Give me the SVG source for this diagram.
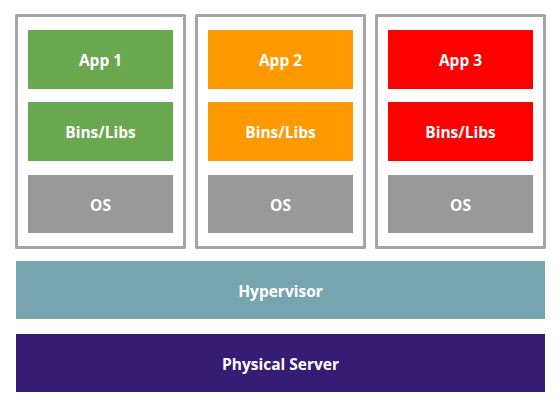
<svg xmlns="http://www.w3.org/2000/svg" width="560" height="406" viewBox="0 0 560 406">
<style>
.vm{fill:#ffffff;stroke:#a5a5a5;stroke-width:3;stroke-linejoin:round}
.lbl{font-family:"Open Sans","Liberation Sans",sans-serif;font-weight:bold;font-size:15.5px;fill:#ffffff;text-anchor:middle;dominant-baseline:central}
.os{fill:#999999}
</style>
<rect width="560" height="406" fill="#ffffff"/>
<g id="vm1">
<rect class="vm" x="16.5" y="15.5" width="168" height="232"/>
<g id="app1"><rect x="28" y="30" width="145" height="59" fill="#6aa84f"/><text class="lbl" x="100.5" y="59.5">App 1</text></g>
<g id="bins1"><rect x="28" y="102" width="145" height="59" fill="#6aa84f"/><text class="lbl" x="100.5" y="131.5">Bins/Libs</text></g>
<g id="os1"><rect class="os" x="28" y="175" width="145" height="58"/><text class="lbl" x="100.5" y="204.5">OS</text></g>
</g>
<g id="vm2">
<rect class="vm" x="196.5" y="15.5" width="168" height="232"/>
<g id="app2"><rect x="208" y="30" width="145" height="59" fill="#ff9900"/><text class="lbl" x="280.5" y="59.5">App 2</text></g>
<g id="bins2"><rect x="208" y="102" width="145" height="59" fill="#ff9900"/><text class="lbl" x="280.5" y="131.5">Bins/Libs</text></g>
<g id="os2"><rect class="os" x="208" y="175" width="145" height="58"/><text class="lbl" x="280.5" y="204.5">OS</text></g>
</g>
<g id="vm3">
<rect class="vm" x="376.5" y="15.5" width="168" height="232"/>
<g id="app3"><rect x="388" y="30" width="145" height="59" fill="#ff0000"/><text class="lbl" x="460.5" y="59.5">App 3</text></g>
<g id="bins3"><rect x="388" y="102" width="145" height="59" fill="#ff0000"/><text class="lbl" x="460.5" y="131.5">Bins/Libs</text></g>
<g id="os3"><rect class="os" x="388" y="175" width="145" height="58"/><text class="lbl" x="460.5" y="204.5">OS</text></g>
</g>
<g id="hypervisor"><rect x="16" y="261" width="529" height="58" fill="#76a5af"/><text class="lbl" x="280.5" y="290.5">Hypervisor</text></g>
<g id="physical"><rect x="16" y="334" width="529" height="58" fill="#351c75"/><text class="lbl" x="280.5" y="363.5">Physical Server</text></g>
<g id="connectors"></g>
</svg>
